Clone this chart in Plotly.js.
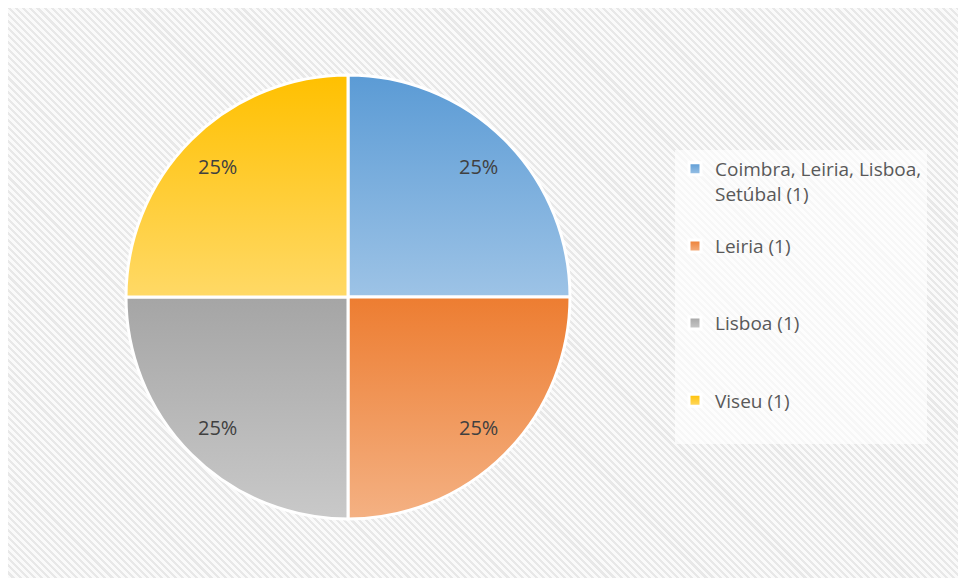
<!DOCTYPE html>
<html>
<head>
<meta charset="utf-8">
<script src="https://cdn.plot.ly/plotly-3.0.1.min.js"></script>
<style>
  html, body { margin: 0; padding: 0; background: #ffffff; width: 958px; height: 578px; overflow: hidden; }
  #bg { position: absolute; left: 8px; top: 8px; width: 950px; height: 570px;
        background: repeating-linear-gradient(45deg, #fafafa 0px, #fafafa 2.8px, #e8e8e8 2.8px, #e8e8e8 5px); }
  #chart { position: absolute; left: 0; top: 0; width: 958px; height: 578px; }
</style>
</head>
<body>
<div id="bg"></div>
<div id="chart"></div>
<script>
// Data
const categories = ["Coimbra, Leiria, Lisboa,<br>Setúbal (1)<br> ", "Leiria (1)<br> <br> ", "Lisboa (1)<br> <br> ", "Viseu (1)<br> "];
const values = [1, 1, 1, 1];
const topColors = ["#5B9BD5", "#ED7D31", "#A5A5A5", "#FFC000"];
const bottomColors = ["#9DC3E6", "#F4B183", "#C9C9C9", "#FFD966"];
const midColors = ["#7CAFDD", "#F0975A", "#B7B7B7", "#FFCC33"];

const W = 958, H = 578;
const cx = 348, cy = 297, R = 222;
const FONT = "'Open Sans', Lato, sans-serif";

// percentage labels placed at each slice's mid-angle (computed from the values)
const total = values.reduce((a, b) => a + b, 0);
let cum = 0;
const annotations = values.map(function (v) {
  const mid = (cum + v / 2) / total;
  cum += v;
  const th = 2 * Math.PI * mid;
  const r = 0.83 * R;
  return {
    xref: "paper", yref: "paper",
    x: (cx + r * Math.sin(th)) / W,
    y: 1 - (cy - r * Math.cos(th)) / H,
    text: Math.round(100 * v / total) + "%",
    showarrow: false,
    font: { family: FONT, size: 20, color: "#404040" },
    xanchor: "center", yanchor: "middle"
  };
});

const trace = {
  type: "pie",
  labels: categories,
  values: values,
  sort: false,
  direction: "clockwise",
  rotation: 0,
  marker: { colors: midColors, line: { color: "#ffffff", width: 3 } },
  textinfo: "none",
  hoverinfo: "none",
  domain: { x: [(cx - R) / W, (cx + R) / W], y: [(H - cy - R) / H, (H - cy + R) / H] }
};

const layout = {
  width: W, height: H,
  margin: { l: 0, r: 0, t: 0, b: 0 },
  paper_bgcolor: "rgba(0,0,0,0)",
  plot_bgcolor: "rgba(0,0,0,0)",
  showlegend: true,
  annotations: annotations,
  legend: {
    x: 675 / W, xanchor: "left",
    y: (H - 150) / H, yanchor: "top",
    bgcolor: "rgba(255,255,255,0.65)",
    valign: "top",
    font: { family: FONT, size: 19, color: "#595959" },
    traceorder: "normal"
  },
  font: { family: FONT }
};

Plotly.newPlot("chart", [trace], layout, { displayModeBar: false, staticPlot: true }).then(function (gd) {
  const svg = gd.querySelector("svg.main-svg");
  const ns = "http://www.w3.org/2000/svg";
  let defs = svg.querySelector("defs");
  if (!defs) { defs = document.createElementNS(ns, "defs"); svg.insertBefore(defs, svg.firstChild); }
  topColors.forEach(function (c, i) {
    const lg = document.createElementNS(ns, "linearGradient");
    lg.setAttribute("id", "grad" + i);
    lg.setAttribute("x1", "0"); lg.setAttribute("y1", "0");
    lg.setAttribute("x2", "0"); lg.setAttribute("y2", "1");
    const s1 = document.createElementNS(ns, "stop");
    s1.setAttribute("offset", "0"); s1.setAttribute("stop-color", c);
    const s2 = document.createElementNS(ns, "stop");
    s2.setAttribute("offset", "1"); s2.setAttribute("stop-color", bottomColors[i]);
    lg.appendChild(s1); lg.appendChild(s2);
    defs.appendChild(lg);
  });
  gd.querySelectorAll(".pielayer .slice path.surface").forEach(function (p, i) {
    p.style.fill = "url(#grad" + i + ")";
  });
  gd.querySelectorAll(".legend .traces path.legendpie").forEach(function (p, i) {
    p.style.fill = "url(#grad" + i + ")";
  });
});
</script>
</body>
</html>
